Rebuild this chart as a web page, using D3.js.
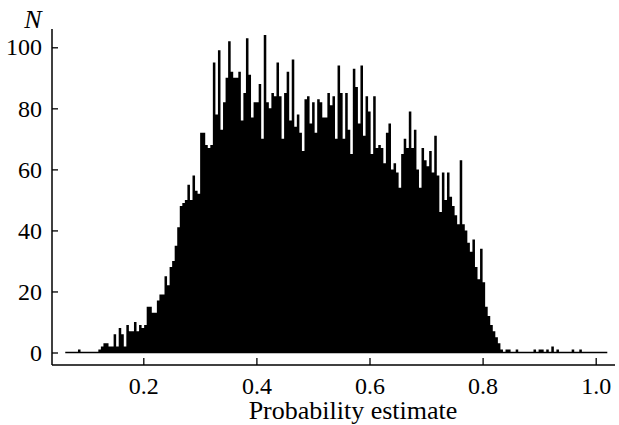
<!DOCTYPE html>
<html>
<head>
<meta charset="utf-8">
<script src="https://cdn.jsdelivr.net/npm/d3@7"></script>
<style>
  body { margin: 0; background: #fff; }
  text { font-family: "Liberation Serif", "DejaVu Serif", serif; fill: #000; }
</style>
</head>
<body>
<div id="chart"></div>
<script>
// histogram of probability estimates, counts
const binStart = 0.062;
const binWidth = 0.0045;

const counts = [
  // left tail
  0, 0, 0, 0, 0, 1, 0, 0, 0, 0, 0, 0, 0, 1,
  // rising edge
  2, 3, 3, 2, 2, 6, 2, 8, 6, 2, 9, 7, 7, 10, 7, 9, 8, 9, 15, 15,
  13, 13, 17, 19, 19, 25, 22, 28, 30, 35, 41, 48, 49,
  // 0.27 - 0.36
  50, 55, 50, 58, 53, 52, 72, 72, 68, 67, 68, 95, 78, 99, 73, 82, 90,
  102, 92, 90, 90, 92, 76, 85, 103, 91, 77, 82, 82, 88, 70, 104, 82,
  // 0.36 - 0.51
  80, 85, 84, 95, 84, 70, 85, 92, 76, 96, 74, 78, 72, 66, 83, 84, 75,
  82, 72, 83, 82, 77, 77, 85, 81, 84, 70, 94, 85, 70, 85, 73, 65,
  // 0.51 - 0.78
  93, 87, 75, 94, 71, 84, 79, 65, 84, 67, 68, 67, 62, 72, 75, 60, 62,
  59, 54, 65, 70, 67, 79, 67, 73, 60, 54, 67, 63, 61, 66, 59, 71, 58,
  46, 59, 50, 59, 51, 48, 45, 42, 63, 42, 40, 36, 33, 37, 28, 24, 34,
  23, 15, 12, 9, 7, 5, 3, 1,
  // right tail
  0, 1, 1, 0, 0, 1, 0, 0, 0, 0, 0, 0, 1, 0, 1, 1, 0, 1, 0, 2,
  0, 1, 0, 0, 0, 0, 0, 1, 0, 0, 1, 0, 0, 0, 0, 0, 0, 0, 0, 0, 0
];

const xTicks = [0.2, 0.4, 0.6, 0.8, 1.0];
const yTicks = [0, 20, 40, 60, 80, 100];
const xTitle = "Probability estimate";
const yTitle = "N";

let width = 619,
  height = 425;

let svg = d3.select("#chart")
  .append("svg")
  .attr("width", width)
  .attr("height", height);

let x = d3.scaleLinear().domain([0.2, 1.0]).range([143.3, 595.7]);
let y = d3.scaleLinear().domain([0, 100]).range([352.5, 47.3]);

let axisY = 365, axisX = 52;

// bins -> step points
let bins = counts.map(function(c, i) {
  return { x0: binStart + i * binWidth, n: c };
});
let last = bins[bins.length - 1];
let steps = bins.concat([{ x0: last.x0 + binWidth, n: last.n }]);

let area = d3.area()
  .curve(d3.curveStepAfter)
  .x(function(d) { return x(d.x0); })
  .y0(y(0))
  .y1(function(d) { return y(d.n); });

svg.append("path")
  .datum(steps)
  .attr("d", area)
  .attr("fill", "#000");

// zero line under the whole histogram
svg.append("line")
  .attr("x1", x(binStart))
  .attr("x2", x(last.x0 + binWidth))
  .attr("y1", y(0))
  .attr("y2", y(0))
  .attr("stroke", "#000")
  .attr("stroke-width", 1.3);

// axes
let gx = svg.append("g")
  .attr("transform", "translate(0," + axisY + ")")
  .call(d3.axisBottom(x)
    .tickValues(xTicks)
    .tickFormat(d3.format(".1f"))
    .tickSize(-7)
    .tickPadding(12));

let gy = svg.append("g")
  .attr("transform", "translate(" + axisX + ",0)")
  .call(d3.axisLeft(y)
    .tickValues(yTicks)
    .tickSize(-6)
    .tickPadding(10));

[gx, gy].forEach(function(g) {
  g.select(".domain").remove();
  g.selectAll("line").attr("stroke", "#000").attr("stroke-width", 1.3);
  g.selectAll("text")
    .style("font-family", "'Liberation Serif', serif")
    .style("font-size", "24px")
    .attr("fill", "#000");
});

svg.append("line")
  .attr("x1", axisX).attr("x2", 615)
  .attr("y1", axisY).attr("y2", axisY)
  .attr("stroke", "#000").attr("stroke-width", 1.5);

svg.append("line")
  .attr("x1", axisX).attr("x2", axisX)
  .attr("y1", 29).attr("y2", axisY)
  .attr("stroke", "#000").attr("stroke-width", 1.5);

svg.append("text")
  .attr("x", 353)
  .attr("y", 419)
  .attr("text-anchor", "middle")
  .style("font-size", "26px")
  .text(xTitle);

svg.append("text")
  .attr("x", 33)
  .attr("y", 28)
  .attr("text-anchor", "middle")
  .style("font-size", "26px")
  .style("font-style", "italic")
  .text(yTitle);
</script>
</body>
</html>
